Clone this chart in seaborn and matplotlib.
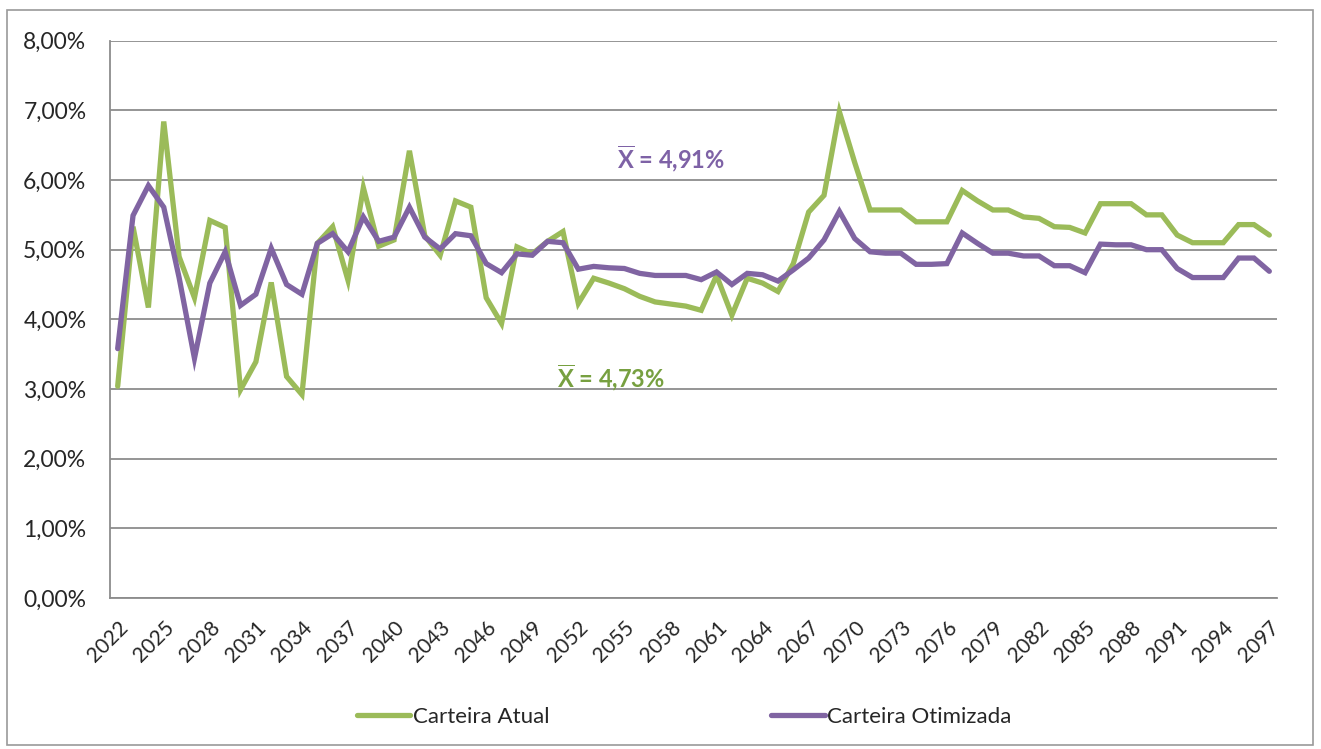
import matplotlib
matplotlib.use("Agg")
import matplotlib.pyplot as plt
from matplotlib.ticker import FixedLocator, FuncFormatter
from matplotlib.patches import Rectangle
import numpy as np
import pandas as pd
import seaborn as sns

# ---------------- data ----------------
years = list(range(2022, 2098))

carteira_atual = [
    3.04, 5.33, 4.17, 6.84, 4.90, 4.31, 5.42, 5.32, 2.99, 3.39,
    4.53, 3.18, 2.92, 5.09, 5.33, 4.56, 5.89, 5.05, 5.14, 6.42,
    5.20, 4.92, 5.70, 5.61, 4.31, 3.94, 5.04, 4.94, 5.12, 5.26,
    4.23, 4.59, 4.52, 4.44, 4.33, 4.25, 4.22, 4.19, 4.13, 4.63,
    4.06, 4.59, 4.52, 4.40, 4.80, 5.54, 5.78, 6.98, 6.25, 5.57,
    5.57, 5.57, 5.40, 5.40, 5.40, 5.85, 5.70, 5.57, 5.57, 5.47,
    5.45, 5.33, 5.32, 5.24, 5.66, 5.66, 5.66, 5.50, 5.50, 5.21,
    5.10, 5.10, 5.10, 5.36, 5.36, 5.21,
]

carteira_otimizada = [
    3.58, 5.49, 5.92, 5.61, 4.60, 3.44, 4.52, 4.97, 4.20, 4.36,
    5.02, 4.50, 4.36, 5.09, 5.23, 4.97, 5.47, 5.12, 5.18, 5.61,
    5.18, 5.01, 5.23, 5.20, 4.80, 4.67, 4.94, 4.92, 5.12, 5.10,
    4.72, 4.76, 4.74, 4.73, 4.66, 4.63, 4.63, 4.63, 4.57, 4.68,
    4.50, 4.66, 4.64, 4.55, 4.71, 4.88, 5.14, 5.55, 5.16, 4.97,
    4.95, 4.95, 4.79, 4.79, 4.80, 5.24, 5.09, 4.95, 4.95, 4.91,
    4.91, 4.77, 4.77, 4.67, 5.08, 5.07, 5.07, 5.00, 5.00, 4.73,
    4.60, 4.60, 4.60, 4.88, 4.88, 4.69,
]

series_names = ["Carteira Atual", "Carteira Otimizada"]
mean_labels = ["4,73%", "4,91%"]
y_ticks = [0, 1, 2, 3, 4, 5, 6, 7, 8]
x_label_years = list(range(2022, 2098, 3))

# ---------------- style ----------------
GREEN = "#9BBB59"
PURPLE = "#8064A2"
GREEN_TXT = "#77A040"
PURPLE_TXT = "#7E62A6"
GRID = "#8C8C8C"
TXT = "#262626"

sns.set_theme(style="white")
plt.rcParams["font.family"] = ["Lato", "DejaVu Sans"]
plt.rcParams["mathtext.fontset"] = "custom"
plt.rcParams["mathtext.rm"] = "Lato"
plt.rcParams["mathtext.bf"] = "Lato:bold"

df = pd.DataFrame({
    "Ano": years * 2,
    "Valor": carteira_atual + carteira_otimizada,
    "Serie": [series_names[0]] * len(years) + [series_names[1]] * len(years),
})

fig = plt.figure(figsize=(13.21, 7.49), dpi=100)
ax = fig.add_axes([110 / 1321, 1 - 598 / 749, (1277 - 110) / 1321, (598 - 40.7) / 749])

sns.lineplot(data=df, x="Ano", y="Valor", hue="Serie", palette=[GREEN, PURPLE],
             linewidth=3.8, ax=ax, legend=True, solid_joinstyle="miter")

ax.set_xlim(years[0] - 0.5, years[-1] + 0.5)
ax.set_ylim(0, 8)
ax.set_xlabel("")
ax.set_ylabel("")

ax.set_yticks(y_ticks)
ax.yaxis.set_major_formatter(FuncFormatter(lambda v, p: f"{v:.2f}".replace(".", ",") + "%"))
ax.yaxis.grid(True, color=GRID, linewidth=1.3)
ax.set_axisbelow(True)

ax.xaxis.set_major_locator(FixedLocator(x_label_years))
ax.xaxis.set_minor_locator(FixedLocator([y - 0.5 for y in years] + [years[-1] + 0.5]))
ax.set_xticklabels([str(y) for y in x_label_years], rotation=45, ha="right",
                   rotation_mode="anchor")
ax.tick_params(axis="x", which="major", length=0, pad=14, labelsize=15, colors=TXT)
ax.tick_params(axis="x", which="minor", length=8, width=1.1, color=GRID, direction="out")
ax.tick_params(axis="y", which="major", length=8, width=1.1, color=GRID, direction="out",
               labelsize=16.5, labelcolor=TXT, pad=9)

for side in ["top", "right"]:
    ax.spines[side].set_visible(False)
for side in ["left", "bottom"]:
    ax.spines[side].set_color(GRID)
    ax.spines[side].set_linewidth(1.3)

# mean annotations
ax.text(2054.5, 6.31, r"$\overline{\mathbf{X}}$ = " + mean_labels[1], color=PURPLE_TXT,
        fontsize=17, fontweight="bold", ha="left", va="center")
ax.text(2050.6, 3.17, r"$\overline{\mathbf{X}}$ = " + mean_labels[0], color=GREEN_TXT,
        fontsize=17, fontweight="bold", ha="left", va="center")

# legend at the bottom
handles, labels = ax.get_legend_handles_labels()
ax.get_legend().remove()
for h in handles:
    h.set_linewidth(3.8)
fig.legend(handles, labels, loc="center", bbox_to_anchor=(0.518, 0.043), ncol=2,
           frameon=False, fontsize=16, handlelength=2.4, handletextpad=0.12,
           columnspacing=10.0, labelcolor=TXT)

# chart-area border
fig.patches.append(Rectangle((7 / 1321, 4 / 749), 1306 / 1321, 735 / 749,
                             transform=fig.transFigure, fill=False,
                             edgecolor="#9A9A9A", linewidth=1.2))

fig.savefig("out.png", dpi=100, facecolor="white")
